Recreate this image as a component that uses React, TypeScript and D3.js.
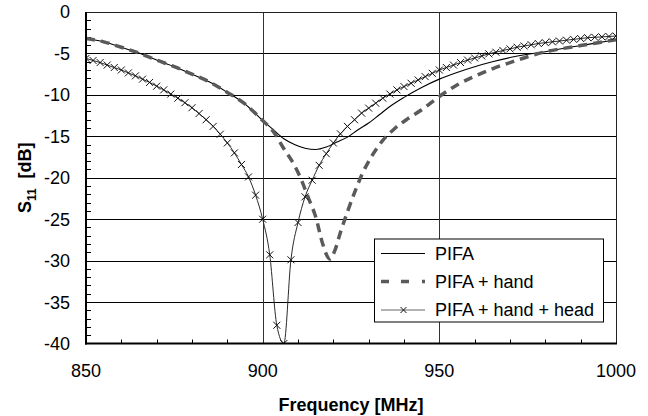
import React from "react";
import * as d3 from "d3";

const pifaFreq = [850,855,860,865,870,875,880,885,890,895,900,903,906,909,912,915,918,921,924,927,930,933,936,940,945,950,955,960,965,970,975,980,985,990,995,1000];
const pifaS11 = [-3.2,-3.6,-4.25,-4.95,-5.8,-6.6,-7.5,-8.45,-9.7,-11.1,-13.1,-14.2,-15.3,-16.0,-16.45,-16.6,-16.3,-15.7,-15.1,-14.2,-13.4,-12.4,-11.4,-10.3,-9.1,-8.1,-7.3,-6.6,-6.0,-5.5,-5.1,-4.8,-4.4,-4.05,-3.7,-3.35];

const handFreq = [850,855,860,865,870,875,880,885,890,895,900,903,906,909,911,913,915,917,919,920.5,922,924,926,928,931,934,937,941,945,950,955,960,965,970,975,980,985,990,995,1000];
const handS11 = [-3.2,-3.6,-4.25,-4.95,-5.8,-6.6,-7.5,-8.45,-9.7,-11.1,-13.1,-14.4,-16.5,-18.5,-20.3,-22.5,-24.7,-28.0,-29.8,-28.7,-26.6,-24.1,-21.8,-19.7,-17.3,-15.5,-14.2,-12.9,-11.8,-10.2,-8.8,-7.75,-6.85,-6.1,-5.4,-4.8,-4.4,-4.05,-3.7,-3.35];

const headFreq = [850,852,854,856,858,860,862,864,866,868,870,872,874,876,878,880,882,884,886,888,890,892,894,896,898,900,902,904,906,908,910,912,914,916,918,920,922,924,926,928,930,932,934,936,938,940,942,944,946,948,950,952,954,956,958,960,962,964,966,968,970,972,974,976,978,980,982,984,986,988,990,992,994,996,998,1000];
const headS11 = [-5.6,-5.85,-6.1,-6.4,-6.7,-7.0,-7.35,-7.7,-8.1,-8.5,-8.95,-9.4,-9.9,-10.4,-10.95,-11.55,-12.25,-13.0,-13.8,-14.75,-15.8,-17.0,-18.4,-19.9,-22.1,-25.0,-29.3,-37.8,-40.0,-29.9,-25.4,-22.3,-20.3,-18.5,-17.1,-15.8,-14.7,-13.8,-13.0,-12.2,-11.6,-11.0,-10.4,-9.9,-9.4,-9.0,-8.6,-8.2,-7.8,-7.4,-7.0,-6.7,-6.4,-6.1,-5.8,-5.55,-5.3,-5.05,-4.85,-4.65,-4.45,-4.25,-4.1,-3.95,-3.8,-3.7,-3.6,-3.5,-3.4,-3.3,-3.2,-3.1,-3.05,-3.0,-2.95,-2.9];

const xTicks = [850, 900, 950, 1000];
const yTicks = [0, -5, -10, -15, -20, -25, -30, -35, -40];
const xGrid = [900, 950];
const legendLabels = ["PIFA", "PIFA + hand", "PIFA + hand + head"];

const W = 648, H = 416;
const L = 86, T = 12, R = 616, B = 343.5;
const FONT = "Arial, 'Liberation Sans', sans-serif";

export default function App() {
  const x = d3.scaleLinear().domain([850, 1000]).range([L, R]);
  const y = d3.scaleLinear().domain([-40, 0]).range([B, T]);
  const line = d3.line<[number, number]>().x(d => x(d[0])).y(d => y(d[1])).curve(d3.curveMonotoneX);
  const pifa = pifaFreq.map((f, i) => [f, pifaS11[i]] as [number, number]);
  const hand = handFreq.map((f, i) => [f, handS11[i]] as [number, number]);
  const head = headFreq.map((f, i) => [f, headS11[i]] as [number, number]);
  const yMinor = d3.range(-39, 0, 1).filter(v => v % 5 !== 0);
  const xMinor = d3.range(860, 1000, 10).filter(v => v % 50 !== 0);
  const cross = (cx: number, cy: number, s = 3.5) => `M${cx - s},${cy - s}L${cx + s},${cy + s}M${cx - s},${cy + s}L${cx + s},${cy - s}`;

  const lx = 374, ly = 238.5, lw = 229, lh = 83;
  const rows = [253.5, 281.5, 310];
  return (
    <svg width={W} height={H} style={{ position: "absolute", left: 0, top: 0, background: "#fff" }} fontFamily={FONT}>
      <defs>
        <clipPath id="plot"><rect x={L} y={T} width={R - L} height={B - T} /></clipPath>
      </defs>
      {yTicks.filter(v => v !== 0 && v !== -40).map(v => (
        <line key={v} x1={L} x2={R} y1={Math.round(y(v)) + 0.5} y2={Math.round(y(v)) + 0.5} stroke="#000" strokeWidth={1} />
      ))}
      {xGrid.map(v => (
        <line key={v} x1={Math.round(x(v)) + 0.5} x2={Math.round(x(v)) + 0.5} y1={T} y2={B} stroke="#333" strokeWidth={1} />
      ))}
      <line x1={L} x2={R} y1={T + 0.5} y2={T + 0.5} stroke="#222" strokeWidth={1} />
      <line x1={R + 0.5} x2={R + 0.5} y1={T} y2={B} stroke="#222" strokeWidth={1} />
      {yMinor.map(v => (
        <line key={v} x1={L} x2={L + 5} y1={Math.round(y(v)) + 0.5} y2={Math.round(y(v)) + 0.5} stroke="#000" strokeWidth={1} />
      ))}
      {xMinor.map(v => (
        <line key={v} x1={Math.round(x(v)) + 0.5} x2={Math.round(x(v)) + 0.5} y1={B - 4} y2={B} stroke="#000" strokeWidth={1} />
      ))}
      <g clipPath="url(#plot)">
        <path d={line(pifa) || ""} fill="none" stroke="#000" strokeWidth={1.1} />
        <path d={line(hand) || ""} fill="none" stroke="#5a5a5a" strokeWidth={3.5} strokeDasharray="9 6" />
        <path d={line(head) || ""} fill="none" stroke="#2a2a2a" strokeWidth={1} />
        {head.map((d, i) => (
          <path key={i} d={cross(x(d[0]), y(d[1]))} stroke="#111" strokeWidth={1} fill="none" />
        ))}
      </g>
      <line x1={L} x2={L} y1={T} y2={B + 1} stroke="#000" strokeWidth={2} />
      <line x1={L - 1} x2={R + 1} y1={B} y2={B} stroke="#000" strokeWidth={2} />
      {yTicks.map(v => (
        <text key={v} x={70} y={y(v)} dy="0.36em" textAnchor="end" fontSize={18} fill="#000">{v}</text>
      ))}
      {xTicks.map(v => (
        <text key={v} x={x(v)} y={377} textAnchor="middle" fontSize={18} fill="#000">{v}</text>
      ))}
      <text x={(L + R) / 2} y={411} textAnchor="middle" fontSize={18} fontWeight="bold" fill="#000">Frequency [MHz]</text>
      <text transform={`translate(31,${(T + B) / 2}) rotate(-90)`} textAnchor="middle" fontSize={18} fontWeight="bold" fill="#000" style={{ whiteSpace: "pre" }}>
        S<tspan fontSize={12} dy={5}>11</tspan><tspan dy={-5}>{"  [dB]"}</tspan>
      </text>
      <rect x={lx + 0.5} y={ly + 0.5} width={lw} height={lh} fill="#fff" stroke="#000" strokeWidth={1} />
      <line x1={381} x2={425} y1={rows[0]} y2={rows[0]} stroke="#000" strokeWidth={1.1} />
      <line x1={381} x2={425} y1={rows[1]} y2={rows[1]} stroke="#5a5a5a" strokeWidth={3.5} strokeDasharray="8 12 8 13 3" />
      <line x1={381} x2={425} y1={rows[2]} y2={rows[2]} stroke="#666" strokeWidth={1} />
      <path d={cross(403.5, rows[2], 3)} stroke="#111" strokeWidth={1} fill="none" />
      {legendLabels.map((t, i) => (
        <text key={t} x={435} y={rows[i]} dy="0.36em" fontSize={18} fill="#000">{t}</text>
      ))}
    </svg>
  );
}
